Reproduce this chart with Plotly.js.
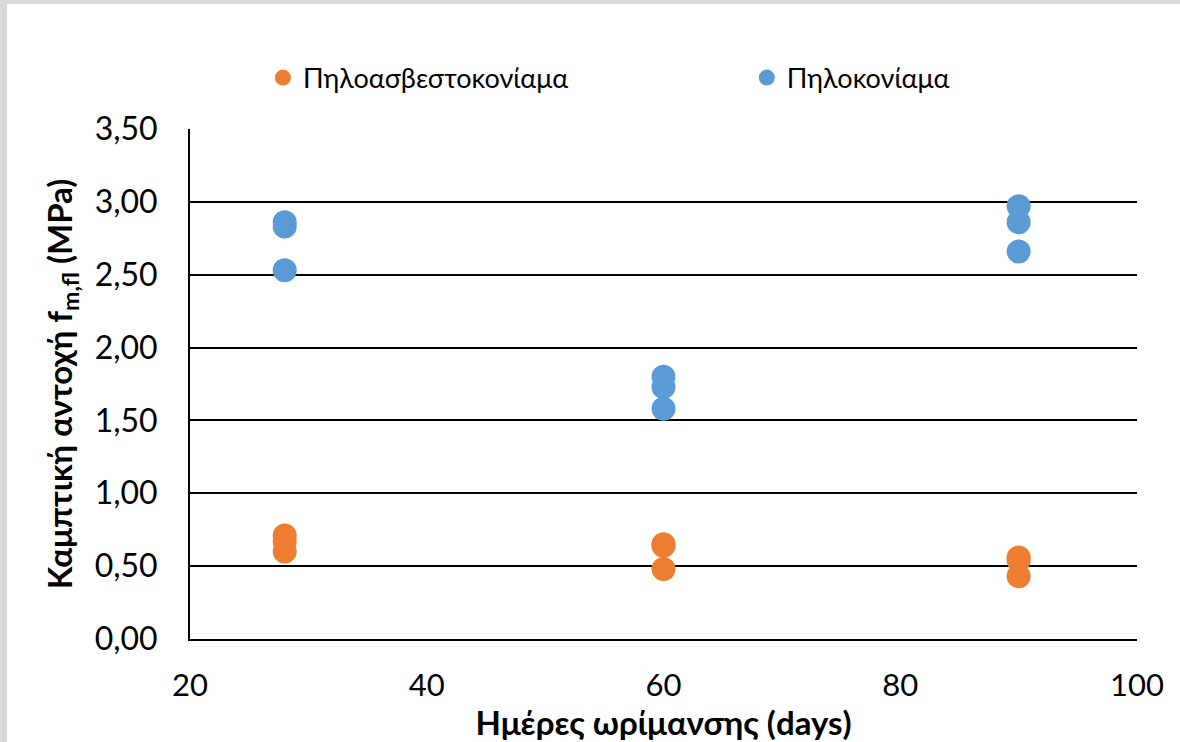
<!DOCTYPE html>
<html>
<head>
<meta charset="utf-8">
<script src="https://cdn.plot.ly/plotly-3.0.1.min.js"></script>
<style>
  html, body { margin:0; padding:0; background:#d9d9d9; width:1180px; height:742px; overflow:hidden; }
  #chart { position:absolute; left:7px; top:4px; width:1173px; height:738px; background:#fff; }
</style>
</head>
<body>
<div id="chart"></div>
<script>
const seriesNames = ["Πηλοασβεστοκονίαμα", "Πηλοκονίαμα"];
const limeDays = [28, 28, 28, 60, 60, 60, 90, 90, 90];
const limeValues = [0.71, 0.67, 0.60, 0.65, 0.64, 0.48, 0.56, 0.54, 0.43];
const clayDays = [28, 28, 28, 60, 60, 60, 90, 90, 90];
const clayValues = [2.86, 2.83, 2.53, 1.80, 1.73, 1.58, 2.97, 2.86, 2.66];
const xTicks = [20, 40, 60, 80, 100];
const yTicks = [0, 0.5, 1, 1.5, 2, 2.5, 3, 3.5];

const font = "Lato, 'Open Sans', sans-serif";
const traces = [
  { x: limeDays, y: limeValues, name: seriesNames[0], type: "scatter", mode: "markers",
    marker: { color: "#ED7D31", size: 24 }, legend: "legend" },
  { x: clayDays, y: clayValues, name: seriesNames[1], type: "scatter", mode: "markers",
    marker: { color: "#5B9BD5", size: 24 }, legend: "legend2" }
];
const legendBase = { orientation: "h", y: 1.1, yanchor: "middle", xanchor: "left",
  font: { family: font, size: 27, color: "#000" }, bgcolor: "rgba(0,0,0,0)" };
const layout = {
  width: 1173, height: 738,
  margin: { l: 183, r: 43, t: 125, b: 103, autoexpand: false },
  paper_bgcolor: "#ffffff", plot_bgcolor: "#ffffff",
  separators: ",.",
  font: { family: font, color: "#000", size: 24 },
  showlegend: true,
  legend: Object.assign({}, legendBase, { x: 0.077 }),
  legend2: Object.assign({}, legendBase, { x: 0.588 }),
  xaxis: {
    range: [20, 100], tickvals: xTicks, ticks: "", showgrid: false, zeroline: false,
    showline: true, linecolor: "#000", linewidth: 2,
    tickfont: { family: font, size: 31 }, ticklabelstandoff: 18,
    title: { text: "<b>Ημέρες ωρίμανσης (days)</b>", font: { family: font, size: 33 }, standoff: 7 }
  },
  yaxis: {
    range: [0, 3.5], tickvals: yTicks, tickformat: ".2f", ticks: "",
    showgrid: true, gridcolor: "#000", gridwidth: 2, zeroline: false,
    showline: true, linecolor: "#000", linewidth: 2,
    tickfont: { family: font, size: 32 }, ticklabelstandoff: 24,
    title: { text: "<b>Καμπτική αντοχή f<sub>m,fl</sub> (MPa)</b>", font: { family: font, size: 33 }, standoff: 12 }
  }
};
Plotly.newPlot("chart", traces, layout, { displayModeBar: false, staticPlot: true });
</script>
</body>
</html>
